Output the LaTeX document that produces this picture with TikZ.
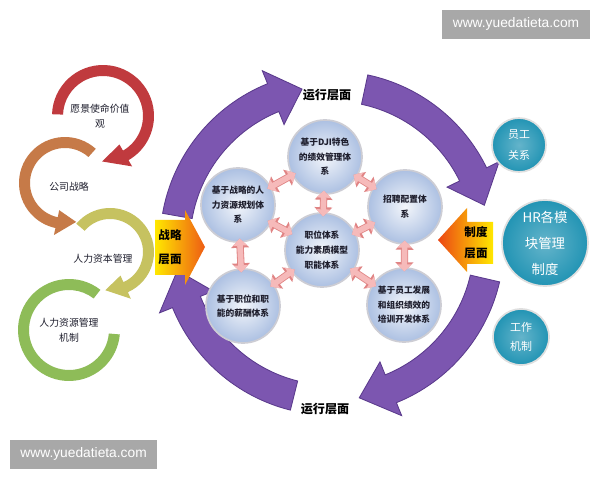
\documentclass[tikz,border=0pt]{standalone}
\usepackage{fontspec}
\setmainfont{Noto Sans CJK SC}
\newfontfamily\webfont{Liberation Sans}
\usepackage{xcolor}
\definecolor{ringpurple}{RGB}{124,86,176}
\definecolor{ringedge}{RGB}{90,58,140}
\definecolor{bubble}{RGB}{172,192,226}
\definecolor{bubblerim}{RGB}{205,205,212}
\definecolor{hrteal}{RGB}{34,148,180}
\definecolor{linkpink}{RGB}{246,186,186}
\definecolor{linkedge}{RGB}{224,132,132}
\definecolor{chainred}{RGB}{192,58,62}
\definecolor{chainorange}{RGB}{198,122,72}
\definecolor{chainolive}{RGB}{198,194,96}
\definecolor{chaingreen}{RGB}{142,188,88}
\definecolor{markgray}{RGB}{168,168,168}
\definecolor{dark}{RGB}{30,30,45}
\usepackage{tikz}
\usetikzlibrary{arrows.meta}

% annulus sector with a head: center, inner r, outer r, start, head base, tip, overhang, style
\newcommand{\ringarrow}[8]{%
  \path[#8, shift={(#1)}] (#4:#3) arc[start angle=#4, end angle=#5, radius=#3]
    -- (#5:{#3+#7}) -- (#6:{(#2+#3)/2}) -- (#5:{#2-#7}) -- (#5:#2)
    arc[start angle=#5, end angle=#4, radius=#2] -- cycle;}

\tikzset{
  bubble/.style={circle, minimum size=1.85cm, inner sep=0pt, align=center,
    draw=bubblerim, line width=1.2pt, inner color=white!85!bubble, outer color=bubble,
    font=\fontsize{6.2}{10.4}\selectfont\bfseries, text=dark},
  hrbubble/.style={circle, inner sep=0pt, align=center, draw=gray!25, line width=1.2pt,
    inner color=hrteal!70!white, outer color=hrteal, text=white},
  link/.style={line width=4pt, draw=linkpink,
    {Triangle[width=10pt,length=5pt]}-{Triangle[width=10pt,length=5pt]},
    preaction={draw=linkedge, line width=5.2pt,
      {Triangle[width=12.5pt,length=6.5pt]}-{Triangle[width=12.5pt,length=6.5pt]}},
    shorten <=-3pt, shorten >=-3pt},
  purplering/.style={fill=ringpurple, draw=ringedge, line width=0.6pt},
  chaintext/.style={font=\fontsize{7}{11}\selectfont, text=dark, align=center},
  layer/.style={font=\fontsize{8.6}{13}\selectfont\bfseries, text=black, align=center},
  webmark/.style={fill=markgray, text=white, font=\webfont\fontsize{9.8}{11}\selectfont,
    minimum width=3.68cm, minimum height=0.72cm, inner sep=0pt}
}

\begin{document}
\begin{tikzpicture}
  \useasboundingbox (0,0) rectangle (15,12);
  \fill[white] (0,0) rectangle (15,12);

  % Chaine a gauche
  \path[fill=chaingreen, shift={(1.725,3.75)}] (52:1.275) arc[start angle=52, end angle=355, radius=1.275]
    -- (355:1.0) arc[start angle=355, end angle=52, radius=1.0] -- cycle;
  \ringarrow{2.75,5.7}{0.825}{1.1}{140}{-66}{-97}{0.18}{fill=chainolive}
  \ringarrow{1.625,7.425}{0.875}{1.15}{48}{258}{286}{0.18}{fill=chainorange}
  \ringarrow{2.575,9.1}{1.0}{1.275}{178}{-60}{-91}{0.18}{fill=chainred}

  \node[chaintext] (vision) at (2.5,9.1) {愿景使命价值\\观};
  \node[chaintext] (strategy) at (1.725,7.33) {公司战略};
  \node[chaintext] (capital) at (2.575,5.53) {人力资本管理};
  \node[chaintext] (mech) at (1.725,3.75) {人力资源管理\\机制};

  % Grand cercle
  \ringarrow{8.3,5.92}{3.55}{4.3}{170}{112}{101}{0.35}{purplering}
  \ringarrow{8.3,5.92}{3.55}{4.3}{78}{26}{14}{0.35}{purplering}
  \ringarrow{8.3,5.92}{3.55}{4.3}{-13}{-68}{-80}{0.35}{purplering}
  \ringarrow{8.3,5.92}{3.55}{4.3}{256}{202}{190}{0.35}{purplering}

  \node[layer] (optop) at (8.175,9.62) {运行层面};
  \node[layer] (opbottom) at (8.125,1.78) {运行层面};

  % Fleches de niveau
  \shade[left color={rgb,255:red,255;green,232;blue,0}, right color={rgb,255:red,238;green,92;blue,20}]
    (3.875,6.5) -- (4.625,6.5) -- (4.625,6.75) -- (5.125,5.825) -- (4.625,4.875)
    -- (4.625,5.125) -- (3.875,5.125) -- cycle;
  \node[layer, font=\fontsize{8.2}{17}\selectfont\bfseries] (stratlbl) at (4.25,5.82) {战略\\层面};

  \shade[left color={rgb,255:red,236;green,70;blue,20}, right color={rgb,255:red,255;green,232;blue,0}]
    (10.95,6.0) -- (11.675,6.8) -- (11.675,6.45) -- (12.325,6.45) -- (12.325,5.4)
    -- (11.675,5.4) -- (11.675,5.2) -- cycle;
  \node[layer, font=\fontsize{8.2}{15}\selectfont\bfseries] (syslbl) at (11.9,5.93) {制度\\层面};

  % Cercles internes
  \node[bubble] (perf) at (8.125,8.075) {基于DJI特色\\的绩效管理体\\系};
  \node[bubble] (plan) at (5.95,6.875) {基于战略的人\\力资源规划体\\系};
  \node[bubble] (recruit) at (10.125,6.825) {招聘配置体\\系};
  \node[bubble] (core) at (8.05,5.75) {职位体系\\能力素质模型\\职能体系};
  \node[bubble] (pay) at (6.075,4.35) {基于职位和职\\能的薪酬体系};
  \node[bubble] (train) at (10.1,4.375) {基于员工发展\\和组织绩效的\\培训开发体系};

  \draw[link] (perf) -- (plan);
  \draw[link] (perf) -- (recruit);
  \draw[link] (perf) -- (core);
  \draw[link] (plan) -- (core);
  \draw[link] (recruit) -- (core);
  \draw[link] (plan) -- (pay);
  \draw[link] (recruit) -- (train);
  \draw[link] (core) -- (pay);
  \draw[link] (core) -- (train);

  % Cercles a droite
  \node[hrbubble, minimum size=1.35cm, font=\fontsize{7.8}{15.4}\selectfont] (rel) at (12.975,8.375) {员工\\关系};
  \node[hrbubble, minimum size=2.15cm, font=\fontsize{9.5}{18.5}\selectfont] (hrsys) at (13.625,5.925) {HR各模\\块管理\\制度};
  \node[hrbubble, minimum size=1.4cm, font=\fontsize{7.8}{14}\selectfont] (work) at (13.025,3.575) {工作\\机制};

  % Filigranes
  \node[webmark] (markTop) at (12.9,11.39) {www.yuedatieta.com};
  \node[webmark] (markBottom) at (2.09,0.64) {www.yuedatieta.com};
\end{tikzpicture}
\end{document}
